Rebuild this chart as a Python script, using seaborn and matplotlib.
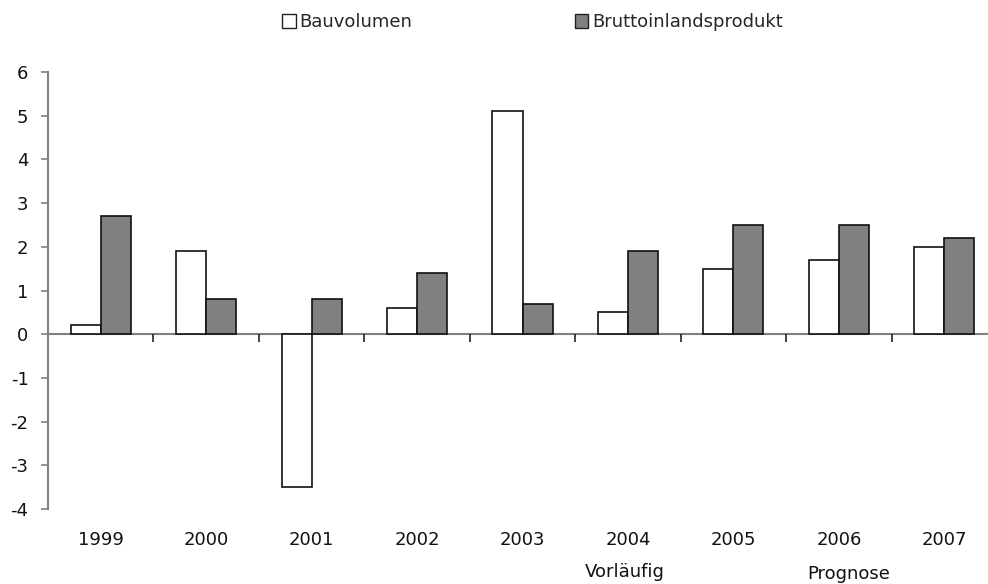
import matplotlib
matplotlib.use("Agg")
import matplotlib.pyplot as plt
import matplotlib.transforms as mtransforms
from matplotlib.patches import Patch
import seaborn as sns
import pandas as pd

years = ["1999", "2000", "2001", "2002", "2003", "2004", "2005", "2006", "2007"]
bauvolumen = [0.2, 1.9, -3.5, 0.6, 5.1, 0.5, 1.5, 1.7, 2.0]
bip = [2.7, 0.8, 0.8, 1.4, 0.7, 1.9, 2.5, 2.5, 2.2]
series_names = ["Bauvolumen", "Bruttoinlandsprodukt"]
notes = {"2004": ("Vorläufig", -0.03, -0.1556), "2006": ("Prognose", 0.09, -0.160)}
y_ticks = [-4, -3, -2, -1, 0, 1, 2, 3, 4, 5, 6]

df = pd.DataFrame({
    "Jahr": years * 2,
    "Wert": bauvolumen + bip,
    "Reihe": [series_names[0]] * len(years) + [series_names[1]] * len(years),
})

sns.set_style("white")
plt.rcParams["font.family"] = ["DejaVu Sans"]
fs = 13

fig = plt.figure(figsize=(9.88, 5.84), dpi=100)
ax = fig.add_axes([48 / 988, 75 / 584, 949 / 988, 437 / 584])

palette = {series_names[0]: "#ffffff", series_names[1]: "#808080"}
sns.barplot(data=df, x="Jahr", y="Wert", hue="Reihe", order=years,
            hue_order=series_names, palette=palette, width=0.57,
            edgecolor="#111111", linewidth=1.2, saturation=1, ax=ax,
            legend=False)

ax.set_xlim(-0.5, len(years) - 0.5)
ax.set_ylim(-4, 6)
ax.set_xlabel("")
ax.set_ylabel("")

axis_grey = "#808080"
for side in ["top", "right"]:
    ax.spines[side].set_visible(False)
ax.spines["left"].set_color(axis_grey)
ax.spines["left"].set_linewidth(1.5)
ax.spines["bottom"].set_position(("data", 0))
ax.spines["bottom"].set_color(axis_grey)
ax.spines["bottom"].set_linewidth(1.5)
ax.spines["bottom"].set_zorder(0.5)

ax.set_yticks(y_ticks)
ax.set_yticklabels([str(t) for t in y_ticks], fontsize=fs, color="#111111")
ax.tick_params(axis="y", direction="out", length=5, width=1.2,
               color=axis_grey, left=True, pad=9)

ax.set_xticks([i - 0.5 for i in range(len(years))])
ax.set_xticklabels([])
ax.tick_params(axis="x", direction="out", length=6, width=1.2,
               color="#222222", bottom=True)

trans = mtransforms.blended_transform_factory(ax.transData, ax.transAxes)
for i, yr in enumerate(years):
    ax.text(i, -0.071, yr, transform=trans, ha="center", va="center",
            fontsize=fs, color="#111111")
    if yr in notes:
        label, dx, yb = notes[yr]
        ax.text(i + dx, yb, label, transform=trans, ha="center",
                va="baseline", fontsize=fs, color="#111111")

handles = [Patch(facecolor=palette[n], edgecolor="#222222", linewidth=1)
           for n in series_names]
fig.legend(handles, series_names, loc="center", bbox_to_anchor=(0.539, 0.962),
           ncol=2, frameon=False, fontsize=fs, handlelength=0.75,
           handleheight=0.75, handletextpad=0.2, columnspacing=9.0)

fig.savefig("out.png", dpi=100)
